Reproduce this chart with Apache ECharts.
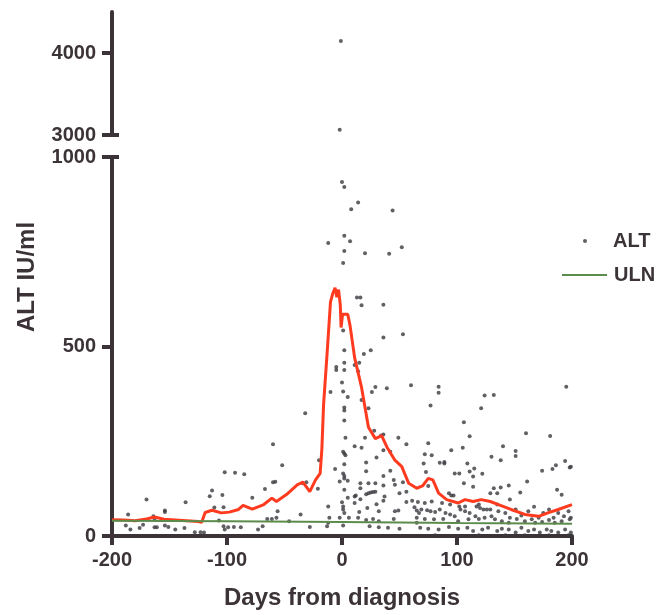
<!DOCTYPE html>
<html>
<head>
<meta charset="utf-8">
<script src="https://cdn.jsdelivr.net/npm/echarts@6/dist/echarts.min.js"></script>
<style>
html,body{margin:0;padding:0;background:#fff;}
#chart{width:657px;height:615px;}
</style>
</head>
<body>
<div id="chart"></div>
<script>
// ---- data ----
const xTicks = [-200, -100, 0, 100, 200];
const yTicksLow = [0, 500, 1000];
const yTicksHigh = [3000, 4000];

// ALT measurements above the axis break (IU/ml)
const altHigh = [[-1, 4146], [-2, 3065]];

// ALT measurements before day -60
const altEarly = [
  [-102,168],[-93,167],[-85,163],[-113,120],[-115,105],[-104,108],[-78,101],[-170,96],[-136,89],
  [-111,75],[-103,76],[-186,57],[-154,67],[-154,63],[-164,52],[-163,45],[-107,41],[-188,28],
  [-184,17],[-176,21],[-173,30],[-163,23],[-161,23],[-154,28],[-151,24],[-145,17],[-137,21],
  [-128,10],[-123,10],[-120,9],[-103,26],[-102,17],[-99,23],[-94,24],[-88,23],[-73,17],
  [-67,124],[-69,26],[-65,45],[-61,45],[-57,48],[-60,242],[-60,142],[-58,143],[-56,65],[-52,187]
];

// ALT measurements around diagnosis (day -50 .. 65)
const altPeak = [
  [0,934],[2,921],[14,880],[8,862],[44,859],[2,792],[7,778],[-12,773],[52,762],
  [2,752],[20,746],[41,745],[1,720],[13,629],[16,629],[17,609],[36,610],[1,542],[36,524],[53,532],
  [2,490],[19,480],[25,490],[-5,446],[-5,438],[2,457],[2,438],[11,451],[15,457],[14,435],[0,405],
  [-10,380],[1,381],[5,367],[17,359],[29,393],[39,390],[26,380],[60,398],[2,339],[2,331],[23,337],
  [2,305],[-32,324],[28,278],[36,268],[34,265],[20,259],[3,259],[49,259],[11,237],[17,233],
  [56,242],[36,226],[1,222],[2,218],[3,213],[30,207],[42,222],[-20,200],[21,194],[2,189],
  [-6,177],[21,171],[42,172],[1,165],[2,158],[2,152],[-2,144],[5,146],[-34,139],[-31,142],[16,139],
  [23,139],[29,139],[36,158],[45,148],[16,126],[29,117],[36,133],[46,135],[53,142],[56,117],[2,122],
  [-21,125],[12,107],[11,104],[21,110],[23,113],[25,115],[27,116],[37,104],[36,93],[5,101],[50,113],
  [0,89],[11,87],[16,97],[30,84],[-12,78],[-36,57],[1,78],[1,70],[2,61],[32,65],[46,65],[49,67],
  [56,90],[61,93],[63,76],[65,67],[67,61],[15,63],[22,74],[-46,39],[-11,48],[-2,48],[6,48],[14,48],
  [21,42],[27,45],[32,39],[45,45],[-28,24],[-13,26],[1,28],[24,26],[32,23],[40,22],[50,19],[-12,35],
  [65,48],[65,35]
];

// ALT measurements after day 65
const altLate = [
  [84,394],[84,378],[77,344],[195,394],[124,371],[132,372],[121,337],[106,300],[160,271],[181,264],
  [111,263],[75,245],[140,237],[105,233],[95,226],[72,216],[78,213],[151,224],[151,211],[130,209],
  [138,200],[194,198],[199,183],[198,181],[71,191],[85,193],[89,195],[89,191],[109,191],[186,187],
  [183,177],[174,172],[73,169],[98,165],[102,165],[111,170],[115,178],[122,164],[114,157],[161,144],
  [106,139],[114,130],[132,126],[138,128],[145,133],[129,113],[135,113],[155,115],[187,122],[191,109],
  [93,113],[95,107],[97,107],[75,132],[66,90],[72,87],[78,91],[87,87],[94,83],[102,78],[107,78],
  [117,78],[119,83],[123,70],[129,70],[135,83],[146,96],
  [69,70],[74,68],[77,65],[81,63],[85,70],[90,61],[94,57],[98,52],[103,70],[107,65],[111,61],[116,52],
  [120,74],[126,70],[130,52],[136,65],[142,61],[146,48],[151,70],[156,54],[162,65],[167,77],[171,48],
  [175,61],[180,70],[184,48],[188,61],[193,52],[197,65],[199,48],
  [72,45],[80,44],[88,45],[101,39],[110,44],[119,45],[124,48],[133,44],[139,39],[145,35],[152,45],
  [159,39],[165,44],[168,35],[174,37],[180,42],[185,35],[191,39],[198,44],
  [68,22],[75,19],[84,17],[93,24],[101,19],[109,22],[114,13],[122,17],[127,22],[135,13],[139,19],
  [145,17],[151,9],[156,22],[162,13],[167,17],[172,9],[178,17],[182,13],[188,9],[194,17],[199,9],
  [81,2],[119,2],[142,2],[159,2],[180,2],[197,2]
];

// moving trend line of ALT
const trendDays = [-200,-190,-180,-170,-163,-155,-145,-135,-125,-122,-119,-113,-105,-98,-90,-86,-78,-68,
  -61,-57,-48,-39,-34,-28,-23,-19,-17.5,-16,-13,-10,-8,-6,-4.5,-3,-1.5,-0.8,0.5,5,7,11,17,23,29,34.5,39,46,52,58,65,
  70,75,79,84,91,101,107,114,121,129,136,147,159,171,179,188,200];
const trendValues = [43,42,40,45,50,44,42,40,38,36,62,68,61,63,70,81,71,83,
  100,91,110,135,142,117,148,165,230,348,480,618,640,655,630,650,610,550,585,585,555,470,392,287,257,265,235,200,183,139,126,
  132,152,148,113,96,87,96,91,96,91,83,70,57,52,61,70,83];

// upper limit of normal
const ulnDays = [-200, -100, 0, 100, 200];
const ulnValues = [40, 39, 37, 34, 32];

// ---- chart ----
const zip = (a, b) => a.map((v, i) => [v, b[i]]);
const altLow = altEarly.concat(altPeak, altLate);

const ink = '#3b3337';
const font = 'Liberation Sans, Arial, Helvetica, sans-serif';
const plain = v => String(v);
const tickLabel = { color: ink, fontFamily: font, fontWeight: 'bold', fontSize: 20, formatter: plain };
const legendText = { color: ink, fontFamily: font, fontWeight: 'bold', fontSize: 20 };

const chart = echarts.init(document.getElementById('chart'), null, { renderer: 'canvas' });

chart.setOption({
  animation: false,
  backgroundColor: '#ffffff',
  grid: [
    { left: 112, top: 12, width: 460, height: 123 },
    { left: 112, top: 157, width: 460, height: 383 }
  ],
  xAxis: [
    { gridIndex: 0, type: 'value', min: xTicks[0], max: xTicks[xTicks.length - 1], show: false },
    {
      gridIndex: 1, type: 'value', min: xTicks[0], max: xTicks[xTicks.length - 1], interval: 100,
      axisLine: { onZero: false, lineStyle: { color: ink, width: 4 } },
      axisTick: { length: 9, lineStyle: { color: ink, width: 4 }, customValues: xTicks },
      axisLabel: Object.assign({ margin: 14, customValues: xTicks }, tickLabel),
      splitLine: { show: false },
      name: 'Days from diagnosis', nameLocation: 'middle', nameGap: 50,
      nameTextStyle: { color: ink, fontFamily: font, fontWeight: 'bold', fontSize: 24 }
    }
  ],
  yAxis: [
    {
      gridIndex: 0, type: 'value', position: 'left', min: 3000, max: 4500, interval: 1000,
      axisLine: { onZero: false, lineStyle: { color: ink, width: 4 } },
      axisTick: { length: 10, lineStyle: { color: ink, width: 4 }, customValues: yTicksHigh },
      axisLabel: Object.assign({ margin: 16, customValues: yTicksHigh }, tickLabel),
      splitLine: { show: false }
    },
    {
      gridIndex: 1, type: 'value', position: 'left', min: 0, max: 1000, interval: 500,
      axisLine: { onZero: false, lineStyle: { color: ink, width: 4 } },
      axisTick: { length: 10, lineStyle: { color: ink, width: 4 }, customValues: yTicksLow },
      axisLabel: Object.assign({ margin: 16, customValues: yTicksLow }, tickLabel),
      splitLine: { show: false }
    },
    {
      gridIndex: 0, type: 'value', position: 'left', min: 3000, max: 4500,
      axisLine: { show: false, onZero: false },
      axisTick: { show: true, inside: true, length: 7, lineStyle: { color: ink, width: 4 }, customValues: [yTicksHigh[0]] },
      axisLabel: { show: false }, splitLine: { show: false }
    },
    {
      gridIndex: 1, type: 'value', position: 'left', min: 0, max: 1000,
      axisLine: { show: false, onZero: false },
      axisTick: { show: true, inside: true, length: 7, lineStyle: { color: ink, width: 4 }, customValues: [yTicksLow[2]] },
      axisLabel: { show: false }, splitLine: { show: false }
    }
  ],
  legend: [
    {
      data: ['ALT'], left: 583, top: 231, padding: 0, itemWidth: 6, itemHeight: 4,
      textStyle: Object.assign({ padding: [0, 0, 0, 20] }, legendText)
    },
    {
      data: [{ name: 'ULN', icon: 'rect' }], left: 562, top: 265, padding: 0, itemWidth: 45, itemHeight: 2,
      textStyle: Object.assign({ padding: [0, 0, 0, 2] }, legendText)
    }
  ],
  graphic: [
    {
      type: 'text', x: 27, y: 277, rotation: Math.PI / 2,
      style: {
        text: 'ALT IU/ml', fill: ink, font: 'bold 24px ' + font,
        textAlign: 'center', textVerticalAlign: 'middle'
      }
    }
  ],
  series: [
    {
      name: 'ALT', type: 'scatter', xAxisIndex: 0, yAxisIndex: 0, data: altHigh,
      symbol: 'circle', symbolSize: 4, itemStyle: { color: '#3a3a3e' }, z: 3
    },
    {
      name: 'ALT', type: 'scatter', xAxisIndex: 1, yAxisIndex: 1, data: altLow,
      symbol: 'circle', symbolSize: 4, itemStyle: { color: '#3a3a3e' }, z: 3
    },
    {
      name: 'Trend', type: 'line', xAxisIndex: 1, yAxisIndex: 1, data: zip(trendDays, trendValues),
      symbol: 'none', lineStyle: { color: '#ff3b1f', width: 3 }, z: 4
    },
    {
      name: 'ULN', type: 'line', xAxisIndex: 1, yAxisIndex: 1, data: zip(ulnDays, ulnValues),
      symbol: 'none', itemStyle: { color: '#5c8c4c' }, lineStyle: { color: '#5c8c4c', width: 2 }, z: 5
    }
  ]
});
</script>
</body>
</html>
